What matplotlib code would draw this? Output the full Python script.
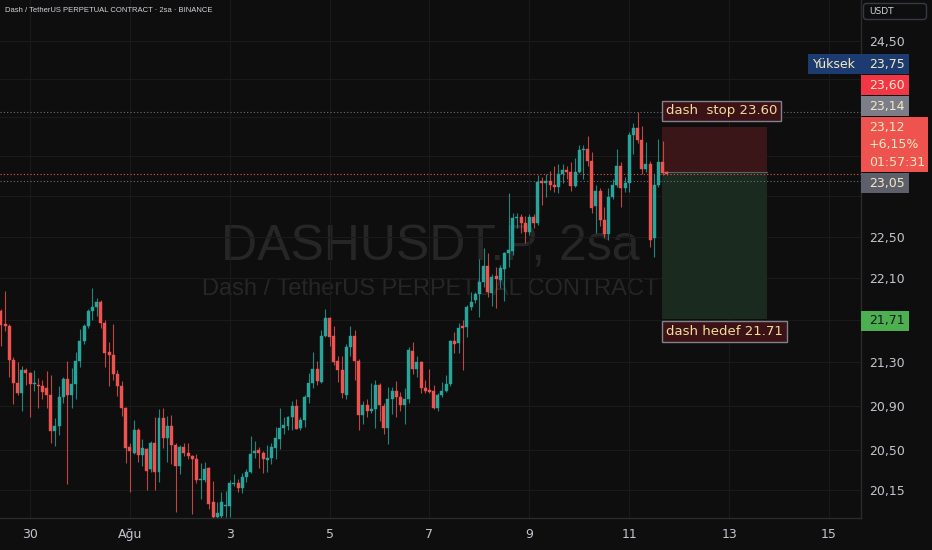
import numpy as np
import matplotlib
matplotlib.use("Agg")
import matplotlib.pyplot as plt
from matplotlib.patches import Rectangle, FancyBboxPatch
from matplotlib.ticker import FixedLocator, FixedFormatter, NullLocator

# ---- DASHUSDT.P, 2-hour candles (first bar: 29 Jul 10:00) ----
opens = [21.78, 21.66, 21.64, 21.32, 21.11, 21.02, 21.23, 21.20, 21.10, 21.09,
         21.08, 21.06, 21.00, 20.67, 20.72, 20.98, 21.15, 21.00, 21.10, 21.31,
         21.50, 21.64, 21.78, 21.82, 21.87, 21.67, 21.40, 21.37, 21.19, 21.08,
         20.88, 20.53, 20.48, 20.68, 20.46, 20.51, 20.33, 20.57, 20.31, 20.79,
         20.61, 20.72, 20.55, 20.36, 20.53, 20.48, 20.45, 20.42, 20.24, 20.24,
         20.34, 20.04, 19.91, 19.92, 20.01, 20.01, 20.20, 20.21, 20.17, 20.26,
         20.31, 20.48, 20.50, 20.48, 20.41, 20.43, 20.52, 20.60, 20.70, 20.72,
         20.80, 20.90, 20.70, 20.77, 20.98, 21.11, 21.24, 21.12, 21.55, 21.72,
         21.55, 21.31, 21.23, 21.00, 21.44, 21.55, 21.31, 20.82, 20.91, 20.85,
         20.87, 21.09, 20.90, 20.70, 20.96, 21.04, 20.98, 20.91, 20.96, 21.41,
         21.24, 21.30, 21.06, 21.05, 21.04, 20.88, 21.00, 21.04, 21.10, 21.50,
         21.48, 21.64, 21.63, 21.82, 21.89, 21.94, 22.06, 22.21, 21.95, 22.12,
         22.08, 22.18, 22.34, 22.36, 22.68, 22.69, 22.63, 22.55, 22.69, 22.63,
         23.05, 23.03, 23.05, 23.01, 22.99, 23.12, 23.16, 23.14, 23.00, 23.14,
         23.36, 23.38, 23.25, 22.80, 22.95, 22.66, 22.53, 22.89, 23.01, 23.20,
         22.98, 23.03, 23.52, 23.59, 23.47, 23.17, 23.22, 22.49, 23.01, 23.24,
         23.14]
highs = [21.80, 21.97, 21.66, 21.35, 21.30, 21.27, 21.25, 21.21, 21.23, 21.16,
         21.14, 21.22, 21.18, 20.79, 21.08, 21.17, 21.31, 21.25, 21.40, 21.61,
         21.66, 21.80, 22.00, 21.91, 21.89, 21.70, 21.49, 21.66, 21.23, 21.13,
         20.89, 20.57, 20.77, 20.70, 20.60, 20.52, 20.58, 20.80, 20.87, 20.88,
         20.81, 20.82, 20.57, 20.55, 20.57, 20.57, 20.46, 20.47, 20.39, 20.40,
         20.35, 20.23, 20.04, 20.13, 20.14, 20.24, 20.29, 20.25, 20.30, 20.33,
         20.63, 20.58, 20.53, 20.49, 20.55, 20.57, 20.71, 20.88, 20.80, 20.81,
         20.95, 20.96, 20.80, 21.00, 21.20, 21.40, 21.31, 21.60, 21.80, 21.73,
         21.64, 21.36, 21.36, 21.47, 21.64, 21.60, 21.33, 20.95, 20.96, 21.11,
         21.14, 21.11, 20.93, 21.07, 21.07, 21.13, 21.03, 21.06, 21.44, 21.49,
         21.36, 21.31, 21.14, 21.24, 21.09, 21.02, 21.12, 21.18, 21.51, 21.58,
         21.67, 21.70, 21.84, 21.96, 21.96, 22.28, 22.39, 22.34, 22.14, 22.20,
         22.22, 22.35, 22.93, 22.73, 22.73, 22.72, 22.70, 22.72, 22.72, 23.11,
         23.09, 23.12, 23.15, 23.20, 23.22, 23.22, 23.20, 23.24, 23.28, 23.42,
         23.42, 23.51, 23.34, 23.01, 22.98, 22.79, 22.98, 23.07, 23.37, 23.24,
         23.09, 23.55, 23.64, 23.75, 23.61, 23.45, 23.25, 23.12, 23.48, 23.46,
         23.15]
lows = [21.45, 21.59, 21.17, 20.92, 21.00, 20.85, 21.09, 20.80, 21.04, 20.88,
        20.96, 20.88, 20.57, 20.54, 20.64, 20.93, 20.20, 20.88, 20.96, 21.26,
        21.47, 21.62, 21.70, 21.74, 21.62, 21.26, 21.08, 21.14, 20.99, 20.81,
        20.39, 20.13, 20.47, 20.40, 20.36, 20.15, 20.31, 20.15, 20.22, 20.52,
        20.40, 20.38, 19.96, 20.29, 20.45, 20.42, 19.94, 20.21, 20.07, 20.22,
        19.98, 19.89, 19.90, 19.90, 19.91, 19.91, 20.18, 20.13, 20.12, 20.22,
        20.30, 20.43, 20.34, 20.30, 20.31, 20.38, 20.42, 20.51, 20.65, 20.68,
        20.68, 20.69, 20.68, 20.71, 20.93, 21.06, 21.09, 21.11, 21.54, 21.45,
        21.28, 21.12, 20.97, 20.96, 21.36, 21.14, 20.68, 20.74, 20.80, 20.84,
        20.70, 20.76, 20.65, 20.56, 20.83, 20.80, 20.85, 20.74, 20.93, 21.19,
        21.17, 21.02, 21.02, 21.02, 20.87, 20.85, 20.98, 21.03, 21.08, 21.39,
        21.39, 21.23, 21.54, 21.79, 21.86, 21.73, 22.01, 21.92, 21.83, 21.81,
        22.00, 21.88, 22.20, 22.32, 22.58, 22.54, 22.44, 22.52, 22.58, 22.61,
        22.81, 22.89, 22.96, 22.94, 22.93, 23.03, 23.07, 22.95, 22.99, 23.13,
        23.07, 23.20, 22.73, 22.54, 22.60, 22.49, 22.47, 22.87, 22.99, 22.79,
        22.94, 22.94, 23.32, 23.44, 23.12, 23.14, 22.40, 22.30, 22.99, 23.11,
        23.11]
closes = [21.65, 21.64, 21.32, 21.11, 21.02, 21.23, 21.20, 21.10, 21.11, 21.08,
          21.03, 21.00, 20.67, 20.72, 20.98, 21.15, 21.00, 21.10, 21.31, 21.50,
          21.64, 21.78, 21.82, 21.87, 21.67, 21.39, 21.37, 21.19, 21.08, 20.88,
          20.52, 20.49, 20.68, 20.46, 20.52, 20.32, 20.57, 20.31, 20.79, 20.61,
          20.72, 20.55, 20.36, 20.53, 20.48, 20.45, 20.42, 20.24, 20.25, 20.33,
          20.03, 19.91, 19.95, 20.04, 20.02, 20.21, 20.21, 20.17, 20.26, 20.31,
          20.47, 20.49, 20.48, 20.42, 20.43, 20.53, 20.61, 20.70, 20.73, 20.80,
          20.90, 20.69, 20.77, 20.98, 21.11, 21.24, 21.13, 21.55, 21.72, 21.54,
          21.30, 21.23, 21.02, 21.44, 21.55, 21.31, 20.82, 20.91, 20.85, 20.87,
          21.09, 20.91, 20.70, 20.96, 21.04, 20.98, 20.91, 20.96, 21.42, 21.24,
          21.30, 21.06, 21.04, 21.03, 20.88, 21.00, 21.04, 21.10, 21.50, 21.47,
          21.62, 21.62, 21.82, 21.87, 21.94, 22.06, 22.21, 21.96, 22.11, 22.09,
          22.19, 22.34, 22.37, 22.68, 22.69, 22.63, 22.55, 22.69, 22.63, 23.04,
          23.03, 23.05, 23.01, 22.99, 23.12, 23.16, 23.14, 23.00, 23.14, 23.36,
          23.38, 23.25, 22.78, 22.95, 22.66, 22.53, 22.89, 23.01, 23.20, 22.98,
          23.03, 23.52, 23.59, 23.47, 23.17, 23.22, 22.47, 23.01, 23.24, 23.13,
          23.12]

# date axis: bar index of each midnight label
date_ticks = [7, 31, 55, 79, 103, 127, 151, 175, 199]
date_labels = ["30", "Ağu", "3", "5", "7", "9", "11", "13", "15"]
price_ticks = [20.15, 20.50, 20.90, 21.30, 21.70, 22.10, 22.50,
               22.90, 23.30, 23.70, 24.10, 24.50]

# short position tool
entry, stop, target = 23.14, 23.60, 21.71
position_span = (158.9, 184.1)

session_high = 23.75
last_price = 23.12
change_pct = "+6,15%"
countdown = "01:57:31"
ref_level = 23.05

# ---- styling ----
BG = "#0e0e0e"
GRID = "#1a1a1a"
UP = "#26a69a"
DOWN = "#ef5350"
AXIS_TXT = "#c2c5cc"
CREAM = "#f6e9c2"
LABEL_TXT = "#f5dc9c"

W, H = 932, 550
fig = plt.figure(figsize=(W / 100, H / 100), dpi=100, facecolor=BG)
ax = fig.add_axes([0, 32 / H, 861 / W, 518 / H])
ax.set_facecolor(BG)

o = np.array(opens); h = np.array(highs); l = np.array(lows); c = np.array(closes)
idx = np.arange(len(o))
col = np.where(c >= o, UP, DOWN)

ax.set_yscale("log")
ax.set_ylim(19.905, 24.942)
ax.set_xlim(-0.21, 206.7)

# wicks and bodies
ax.vlines(idx, l, h, colors=col, linewidth=0.8, alpha=0.8, zorder=3)
lo = np.minimum(o, c)
hi = np.maximum(o, c)
ht = np.maximum(hi - lo, 0.008)
ax.bar(idx, ht, bottom=lo, width=0.72, color=col, edgecolor=col,
       linewidth=0.3, zorder=4)

# reference dotted lines
ax.axhline(session_high, color="#6b6e78", ls=(0, (1, 2)), lw=0.8, zorder=2)
ax.axhline(last_price, color=DOWN, ls=(0, (1, 2)), lw=0.8, zorder=2)
ax.axhline(ref_level, color="#6b6e78", ls=(0, (1, 2)), lw=0.8, zorder=2)

# position boxes
x0, x1 = position_span
ax.add_patch(Rectangle((x0, entry), x1 - x0, stop - entry,
                       facecolor="#3a1619", edgecolor="none", zorder=1))
ax.add_patch(Rectangle((x0, target), x1 - x0, entry - target,
                       facecolor="#1b2a1e", edgecolor="none", zorder=1))
ax.plot([x0, x1], [entry, entry], color="#5d606b", lw=0.8, zorder=1.5)

lbl_box = dict(boxstyle="square,pad=0.28", fc="#3b1216", ec="#80838c", lw=1)
ax.annotate(f"dash  stop {stop:.2f}", xy=(x0, stop), xytext=(4, 16),
            textcoords="offset pixels", ha="left", va="center",
            fontsize=9.5, color=LABEL_TXT, bbox=lbl_box, zorder=6)
ax.annotate(f"dash hedef {target:.2f}", xy=(x0, target), xytext=(4, -13),
            textcoords="offset pixels", ha="left", va="center",
            fontsize=9.5, color=LABEL_TXT, bbox=lbl_box, zorder=6)

# watermark
ax.text(0.5, 0.498, "DASHUSDT.P, 2sa", transform=ax.transAxes, ha="center",
        va="baseline", fontsize=36, color="#262626", family="Liberation Sans",
        zorder=0)
ax.text(0.5, 0.4305, "Dash / TetherUS PERPETUAL CONTRACT", transform=ax.transAxes,
        ha="center", va="baseline", fontsize=17, color="#262626",
        family="Liberation Sans", zorder=0)

# axes frame and grid
for s in ("top", "left"):
    ax.spines[s].set_visible(False)
for s in ("bottom", "right"):
    ax.spines[s].set_color("#2b2b2b")
    ax.spines[s].set_linewidth(1)

ax.set_xticks(date_ticks)
ax.set_xticklabels(date_labels)
ax.tick_params(axis="x", length=0, pad=7, labelsize=9, labelcolor=AXIS_TXT)
ax.yaxis.tick_right()
ax.yaxis.set_major_locator(FixedLocator(price_ticks))
ax.yaxis.set_minor_locator(NullLocator())
ax.grid(True, color=GRID, lw=0.8, zorder=0)
ax.set_axisbelow(True)

# ---- right price scale labels (stacked so they do not overlap) ----
def ypix(p):
    return H - ax.transData.transform((0, p))[1]

scale_labels = [
    (target, [f"{target:.2f}".replace(".", ",")], "#4caf50", "#16181d"),
    (ref_level, [f"{ref_level:.2f}".replace(".", ",")], "#5d606b", CREAM),
    (last_price, [f"{last_price:.2f}".replace(".", ","), change_pct, countdown],
     DOWN, CREAM),
    (entry, [f"{entry:.2f}".replace(".", ",")], "#7b7e88", CREAM),
    (stop, [f"{stop:.2f}".replace(".", ",")], "#f23645", CREAM),
    (session_high, [f"{session_high:.2f}".replace(".", ",")], "#1c3b70", CREAM),
]

ov = fig.add_axes([0, 0, 1, 1], zorder=10)
ov.set_xlim(0, W)
ov.set_ylim(H, 0)
ov.axis("off")
ov.patch.set_alpha(0)

axis_x = 861
line_h = 17.5
boxes = []
prev_top = 1e9
for price, lines, face, tcol in sorted(scale_labels, key=lambda t: t[0]):
    bh = 20 if len(lines) == 1 else 55
    top = ypix(price) - 8
    bottom = top + bh
    if bottom > prev_top - 1:
        shift = bottom - (prev_top - 1)
        top -= shift
        bottom -= shift
    prev_top = top
    bw = 48 if len(lines) == 1 else 67
    ov.add_patch(Rectangle((axis_x, top), bw, bh, facecolor=face,
                           edgecolor="none"))
    for k, s in enumerate(lines):
        ov.text(axis_x + 8, top + 10 + k * line_h, s, ha="left", va="center",
                fontsize=9, color=tcol)
    boxes.append((top, bottom))
    if price == session_high:
        ov.add_patch(Rectangle((808, top), axis_x - 808, bh,
                               facecolor="#1c3b70", edgecolor="none"))
        ov.text(834, top + 10, "Yüksek", ha="center", va="center",
                fontsize=9, color=CREAM)

# tick labels hidden where a price label sits
tick_txt = []
for t in price_ticks:
    yp = ypix(t)
    hidden = any(b0 - 8 < yp < b1 + 8 for b0, b1 in boxes)
    tick_txt.append("" if hidden else f"{t:.2f}".replace(".", ","))
ax.yaxis.set_major_formatter(FixedFormatter(tick_txt))
ax.tick_params(axis="y", length=0, pad=6, labelsize=9, labelcolor=AXIS_TXT)

# currency tag and title
ov.add_patch(FancyBboxPatch((863.5, 3.5), 63, 16,
                            boxstyle="round,pad=0,rounding_size=3",
                            fc="none", ec="#363a45", lw=1))
ov.text(869, 11.5, "USDT", ha="left", va="center", fontsize=6.5,
        color="#d1d4dc")
ov.text(5, 11, "Dash / TetherUS PERPETUAL CONTRACT · 2sa · BINANCE",
        ha="left", va="center", fontsize=5.5, color="#d1d4dc",
        family="Liberation Sans")

fig.savefig("out.png", dpi=100, facecolor=BG)
